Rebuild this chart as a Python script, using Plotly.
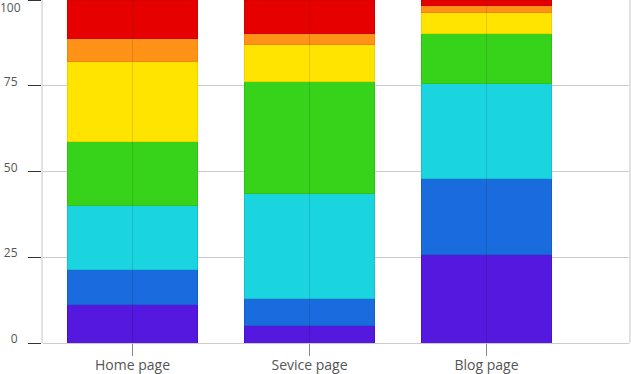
import plotly.graph_objects as go

categories = ["Home page", "Sevice page", "Blog page"]
series_names = ["S1", "S2", "S3", "S4", "S5", "S6", "S7"]
purple = [11.3, 5.0, 25.7]
blue = [10.2, 8.1, 22.3]
cyan = [18.5, 30.5, 27.7]
green = [18.8, 32.6, 14.6]
yellow = [23.4, 10.9, 6.1]
orange = [6.6, 3.2, 2.0]
red = [11.2, 9.7, 1.6]
y_ticks = [0, 25, 50, 75, 100]
y_tick_text = ["0", "25", "50", "75", ""]
top_label = "100"

series = [purple, blue, cyan, green, yellow, orange, red]
colors = ["#5518de", "#1a6bde", "#1ad4e0", "#37d31b", "#ffe400", "#ff9217", "#e60000"]
edge = ["#4a12c8", "#165fc8", "#17c0cc", "#30c018", "#f0d200", "#f08510", "#d40000"]

fig = go.Figure()
for name, vals, c, e in zip(series_names, series, colors, edge):
    fig.add_trace(go.Bar(x=categories, y=vals, name=name,
                         marker=dict(color=c, line=dict(color=e, width=1))))

for cat in categories:
    fig.add_shape(type="line", xref="x", yref="paper", x0=cat, x1=cat, y0=0, y1=1,
                  line=dict(color="rgba(0,0,0,0.12)", width=1), layer="above")

fig.add_annotation(text=top_label, xref="paper", yref="paper", x=0, y=1,
                   xanchor="right", yanchor="top", xshift=-20, yshift=3,
                   showarrow=False, font=dict(size=12, color="#555"))

fig.update_layout(
    barmode="stack",
    bargap=0.27,
    width=631, height=374,
    margin=dict(l=43, r=2, t=0, b=31, autoexpand=False),
    paper_bgcolor="white", plot_bgcolor="white",
    showlegend=False,
    font=dict(family="Open Sans, sans-serif", size=13, color="#555"),
)
fig.update_xaxes(
    range=[-0.506, 2.805],
    showgrid=False, automargin=False,
    ticks="outside", ticklen=12, tickcolor="#888", tickwidth=1,
    showline=False,
    tickfont=dict(size=14, color="#555"),
    ticklabelstandoff=-3,
)
fig.update_yaxes(
    range=[0, 100],
    tickvals=y_ticks, ticktext=y_tick_text, automargin=False,
    showgrid=True, gridcolor="#cccccc", gridwidth=1,
    ticks="outside", ticklen=13, tickcolor="#333", tickwidth=1,
    showline=True, linecolor="#e2e2e2", linewidth=2, mirror=True,
    zeroline=True, zerolinecolor="#cccccc", zerolinewidth=1,
    tickfont=dict(size=12, color="#555"),
    ticklabelstandoff=8,
    ticklabelshift=-4,
    ticklabeloverflow="allow",
)
fig.write_html("out.html", config={"displayModeBar": False},
               post_script="document.body.style.margin='0';document.body.style.overflow='hidden';")
